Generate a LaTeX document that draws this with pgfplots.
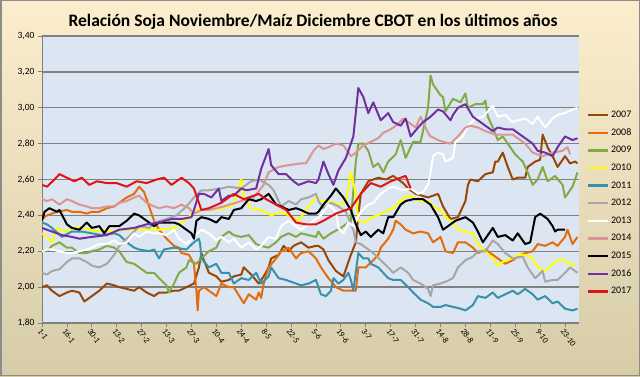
\documentclass[border=0pt]{standalone}
\usepackage{pgfplots}
\pgfplotsset{compat=1.18}
\usepackage{fontspec}
\setmainfont{Carlito}
\definecolor{c2007}{RGB}{151,71,6}
\definecolor{c2008}{RGB}{228,108,10}
\definecolor{c2009}{RGB}{130,170,70}
\definecolor{c2010}{RGB}{255,255,0}
\definecolor{c2011}{RGB}{55,145,170}
\definecolor{c2012}{RGB}{166,166,166}
\definecolor{c2013}{RGB}{255,255,255}
\definecolor{c2014}{RGB}{217,150,148}
\definecolor{c2015}{RGB}{0,0,0}
\definecolor{c2016}{RGB}{112,48,160}
\definecolor{c2017}{RGB}{225,20,20}
\definecolor{plotbg}{RGB}{220,230,242}
\definecolor{gridc}{RGB}{128,128,128}
\begin{document}
\begin{tikzpicture}
\shade[top color={rgb,255:red,252;green,238;blue,205}, bottom color={rgb,255:red,214;green,204;blue,168}] (0,0) rectangle (640pt,376pt);
\draw[line width=1.5pt, color={rgb,255:red,140;green,140;blue,140}] (0.75pt,0.75pt) rectangle (639.25pt,375.25pt);
\node[font=\fontsize{17.5}{20}\selectfont\bfseries] at (313pt,354pt) {Relación Soja Noviembre/Maíz Diciembre CBOT en los últimos años};
\begin{axis}[
  at={(42pt,53pt)}, anchor=south west,
  width=537pt, height=287pt, scale only axis,
  xmin=0, xmax=215.6, ymin=1.8, ymax=3.4,
  axis lines*=left,
  axis line style={gridc, line width=0.8pt},
  axis background/.style={fill=plotbg},
  xtick={0,10,...,210},
  xticklabels={1-1,16-1,30-1,13-2,27-2,13-3,27-3,10-4,24-4,8-5,22-5,5-6,19-6,3-7,17-7,31-7,14-8,28-8,11-9,25-9,9-10,23-10},
  ytick={1.8,2.0,2.2,2.4,2.6,2.8,3.0,3.2,3.4},
  ymajorgrids,
  major grid style={gridc, line width=1.3pt},
  tick align=outside, major tick length=4pt,
  tick style={gridc, line width=0.8pt},
  xticklabel style={rotate=-55, anchor=north west, inner sep=0.5pt, font=\fontsize{8.5}{9}\selectfont},
  yticklabel style={font=\fontsize{9.5}{11}\selectfont},
  /pgf/number format/.cd, assume math mode=true, use comma, fixed, fixed zerofill, precision=2,
  /pgfplots/.cd,
  every axis plot/.append style={line width=2pt, line join=round},
  clip=true,
  legend style={at={(1.012,0.75)}, anchor=north west, draw=none, fill=none, font=\fontsize{10}{12}\selectfont, row sep=5.6pt, inner sep=1pt},
  legend cell align=left,
  legend image code/.code={\draw[#1, line width=2.4pt] (0pt,0pt) -- (20pt,0pt);},
]
% 2007
\addplot[c2007] coordinates {(0,2.00)(2,2.01)(4,1.98)(7,1.95)(10,1.97)(12,1.98)(15,1.97)(17,1.92)(18,1.93)(20,1.95)(23,1.98)(26,2.02)(29,2.01)(31,2.00)(34,1.99)(37,1.98)(39,2.00)(42,1.97)(45,1.95)(47,1.97)(50,1.97)(53,1.98)(55,1.98)(58,2.00)(61,2.02)(63,2.11)(64,2.19)(65,2.15)(67,2.08)(70,2.06)(72,2.03)(75,2.04)(77,2.06)(80,2.07)(81,2.11)(84,2.07)(87,2.02)(89,2.06)(91,2.11)(92,2.16)(95,2.18)(97,2.23)(99,2.20)(101,2.23)(104,2.25)(107,2.22)(110,2.23)(111,2.23)(113,2.21)(115,2.15)(118,2.09)(121,2.06)(122,2.10)(124,2.18)(126,2.25)(127,2.40)(128,2.52)(131,2.59)(135,2.61)(138,2.60)(141,2.62)(143,2.60)(145,2.58)(147,2.55)(150,2.52)(155,2.50)(159,2.52)(161,2.45)(164,2.38)(167,2.39)(170,2.48)(171,2.57)(172,2.60)(175,2.59)(178,2.63)(181,2.64)(182,2.70)(183,2.70)(185,2.75)(187,2.67)(189,2.60)(191,2.61)(194,2.61)(195,2.67)(198,2.70)(200,2.71)(201,2.85)(203,2.78)(205,2.73)(207,2.67)(210,2.73)(212,2.69)(214,2.70)(215,2.69)};
% 2008
\addplot[c2008] coordinates {(0,2.38)(2,2.40)(6,2.42)(10,2.43)(12,2.42)(15,2.42)(18,2.41)(20,2.42)(23,2.42)(26,2.44)(29,2.45)(31,2.47)(34,2.50)(37,2.52)(39,2.56)(41,2.53)(43,2.45)(45,2.37)(47,2.32)(50,2.27)(53,2.23)(55,2.22)(56,2.19)(59,2.18)(61,2.13)(62,1.98)(62.5,1.87)(63,1.98)(65,2.00)(67,1.98)(70,1.95)(72,2.02)(75,2.00)(77,2.00)(81,1.91)(83,1.96)(86,1.93)(87,1.97)(88,1.94)(89,2.02)(91,2.11)(94,2.16)(96,2.20)(99,2.22)(102,2.16)(104,2.19)(107,2.20)(110,2.16)(112,2.11)(115,2.05)(118,2.00)(121,1.98)(124,1.98)(126,1.98)(127,2.11)(130,2.11)(133,2.15)(135,2.18)(136,2.22)(139,2.27)(141,2.32)(142,2.37)(144,2.35)(146,2.32)(149,2.30)(152,2.31)(155,2.30)(157,2.25)(160,2.28)(162,2.20)(165,2.19)(167,2.25)(170,2.25)(173,2.22)(175,2.19)(178,2.21)(183,2.16)(186,2.13)(189,2.15)(191,2.17)(194,2.19)(197,2.20)(199,2.24)(202,2.23)(205,2.25)(207,2.23)(210,2.28)(211,2.32)(213,2.24)(215,2.28)};
% 2009
\addplot[c2009] coordinates {(0,2.21)(2,2.20)(4,2.23)(7,2.25)(10,2.22)(12,2.22)(15,2.19)(18,2.19)(20,2.20)(23,2.21)(26,2.23)(29,2.22)(31,2.20)(34,2.14)(37,2.13)(39,2.11)(42,2.08)(45,2.08)(47,2.05)(50,2.01)(51,1.97)(53,2.02)(55,2.08)(58,2.11)(59,2.15)(62,2.13)(64,2.16)(67,2.20)(70,2.22)(72,2.28)(75,2.31)(77,2.29)(80,2.28)(83,2.29)(86,2.24)(88,2.23)(91,2.22)(94,2.25)(96,2.28)(99,2.30)(102,2.28)(104,2.30)(107,2.29)(110,2.28)(111,2.31)(113,2.27)(116,2.30)(120,2.33)(124,2.37)(126,2.70)(127,2.80)(129,2.80)(131,2.76)(133,2.67)(135,2.69)(137,2.64)(139,2.70)(142,2.74)(144,2.82)(146,2.72)(149,2.81)(152,2.81)(155,3.00)(156,3.18)(157,3.13)(160,3.07)(161,3.06)(162,2.98)(165,3.05)(168,3.03)(170,3.08)(171,3.00)(174,3.02)(177,3.02)(178,3.04)(179,2.95)(181,2.89)(183,2.82)(185,2.84)(188,2.78)(190,2.74)(193,2.70)(195,2.64)(197,2.57)(199,2.60)(201,2.67)(203,2.59)(206,2.62)(209,2.57)(210,2.50)(213,2.56)(214,2.60)(215,2.64)};
% 2010
\addplot[c2010] coordinates {(0,2.30)(2,2.28)(4,2.25)(6,2.33)(9,2.31)(13,2.33)(17,2.33)(19,2.32)(22,2.31)(25,2.32)(28,2.31)(33,2.32)(39,2.32)(47,2.32)(53,2.33)(58,2.38)(62,2.43)(67,2.43)(73,2.44)(77,2.46)(80,2.60)(81,2.50)(84,2.44)(88,2.43)(92,2.40)(96,2.42)(99,2.40)(103,2.37)(108,2.47)(110,2.50)(112,2.48)(115,2.48)(119,2.46)(122,2.47)(124,2.64)(126,2.52)(127,2.37)(130,2.36)(132,2.39)(135,2.40)(139,2.43)(141,2.44)(144,2.48)(146,2.51)(149,2.50)(152,2.48)(155,2.48)(157,2.45)(160,2.43)(162,2.39)(165,2.36)(167,2.32)(170,2.31)(173,2.30)(175,2.24)(178,2.20)(181,2.16)(183,2.12)(186,2.15)(189,2.16)(191,2.18)(194,2.18)(197,2.16)(199,2.11)(202,2.09)(205,2.13)(207,2.15)(210,2.15)(213,2.12)(214,2.13)};
% 2011
\addplot[c2011] coordinates {(0,2.36)(2,2.35)(4,2.33)(8,2.28)(12,2.31)(16,2.31)(20,2.30)(24,2.29)(29,2.30)(31,2.29)(35,2.24)(37,2.22)(39,2.21)(43,2.20)(45,2.21)(47,2.16)(49,2.21)(53,2.22)(58,2.21)(61,2.25)(63,2.27)(63.5,2.24)(64,2.16)(67,2.11)(70,2.13)(72,2.08)(75,2.08)(77,2.02)(80,2.05)(83,2.04)(86,2.08)(88,2.02)(91,2.06)(92,2.11)(95,2.05)(98,2.04)(102,2.02)(104,2.01)(107,2.02)(110,2.04)(112,1.96)(114,1.95)(116,1.98)(117,2.05)(119,2.02)(121,2.04)(123,2.08)(124,2.04)(125,1.98)(127,2.19)(129,2.16)(131,2.16)(132,2.13)(135,2.11)(137,2.08)(139,2.05)(141,2.04)(144,2.04)(147,2.00)(149,1.97)(152,1.93)(155,1.91)(157,1.89)(160,1.89)(162,1.90)(165,1.89)(168,1.88)(170,1.87)(173,1.90)(175,1.95)(178,1.94)(181,1.97)(183,1.94)(186,1.96)(189,1.98)(191,1.96)(194,1.99)(197,1.96)(199,1.93)(202,1.95)(205,1.91)(207,1.92)(210,1.88)(213,1.87)(215,1.88)};
% 2012
\addplot[c2012] coordinates {(0,2.08)(2,2.07)(4,2.09)(7,2.10)(10,2.14)(12,2.16)(15,2.16)(18,2.14)(20,2.12)(23,2.11)(26,2.13)(29,2.18)(31,2.23)(34,2.27)(37,2.31)(39,2.34)(43,2.33)(45,2.36)(50,2.38)(54,2.40)(58,2.45)(61,2.50)(64,2.54)(67,2.54)(72,2.55)(75,2.56)(80,2.55)(84,2.59)(87,2.60)(91,2.57)(93,2.54)(95,2.48)(96,2.45)(99,2.48)(102,2.46)(104,2.49)(107,2.50)(110,2.52)(111,2.48)(113,2.44)(116,2.47)(119,2.45)(122,2.42)(125,2.32)(126,2.25)(128,2.24)(130,2.22)(133,2.19)(136,2.15)(139,2.11)(141,2.08)(144,2.11)(147,2.08)(149,2.04)(152,2.02)(155,1.99)(156,1.95)(157,2.01)(160,2.02)(162,2.03)(165,2.05)(167,2.11)(170,2.15)(173,2.17)(175,2.20)(178,2.20)(181,2.26)(183,2.24)(186,2.19)(189,2.16)(193,2.17)(195,2.11)(198,2.05)(201,2.09)(202,2.03)(205,2.04)(207,2.04)(210,2.08)(212,2.11)(215,2.08)};
% 2013
\addplot[c2013] coordinates {(0,2.20)(2,2.21)(4,2.21)(7,2.20)(10,2.19)(12,2.19)(15,2.20)(18,2.21)(20,2.22)(23,2.24)(26,2.24)(29,2.26)(31,2.24)(34,2.25)(37,2.30)(39,2.28)(42,2.31)(45,2.30)(47,2.30)(50,2.29)(53,2.32)(55,2.27)(58,2.24)(61,2.28)(64,2.32)(67,2.30)(70,2.26)(72,2.28)(75,2.25)(77,2.27)(80,2.22)(83,2.25)(86,2.21)(88,2.23)(91,2.28)(94,2.27)(96,2.34)(99,2.37)(102,2.34)(104,2.32)(107,2.35)(110,2.38)(112,2.40)(115,2.46)(118,2.42)(119,2.33)(121,2.30)(123,2.36)(125,2.34)(128,2.42)(131,2.46)(133,2.47)(136,2.52)(139,2.55)(141,2.56)(145,2.54)(148,2.55)(151,2.52)(153,2.53)(155,2.57)(156,2.64)(157,2.73)(159,2.75)(161,2.74)(162,2.70)(165,2.72)(166,2.81)(169,2.84)(171,2.90)(174,2.94)(177,2.95)(179,2.98)(181,3.01)(183,2.95)(186,2.96)(189,2.92)(191,2.93)(194,2.94)(197,2.91)(199,2.95)(202,2.89)(205,2.94)(207,2.96)(210,2.97)(213,2.99)(215,3.00)};
% 2014
\addplot[c2014] coordinates {(0,2.49)(2,2.48)(4,2.49)(7,2.46)(10,2.49)(12,2.48)(15,2.46)(18,2.45)(20,2.44)(23,2.44)(26,2.45)(29,2.45)(31,2.47)(34,2.48)(37,2.50)(39,2.51)(42,2.47)(45,2.45)(47,2.44)(50,2.45)(53,2.44)(56,2.46)(59,2.44)(61,2.41)(64,2.43)(67,2.43)(73,2.45)(80,2.48)(85,2.50)(89,2.57)(91,2.64)(95,2.67)(99,2.68)(104,2.69)(106,2.69)(109,2.76)(111,2.79)(113,2.77)(115,2.78)(118,2.80)(121,2.79)(124,2.73)(126,2.75)(129,2.79)(132,2.81)(135,2.83)(137,2.86)(140,2.88)(143,2.91)(145,2.94)(148,2.91)(150,2.89)(152,2.95)(155,2.86)(156,2.84)(159,2.82)(161,2.81)(164,2.80)(167,2.84)(170,2.89)(172,2.90)(175,2.89)(178,2.87)(182,2.85)(189,2.85)(194,2.80)(197,2.75)(201,2.73)(205,2.75)(209,2.76)(211,2.78)(212,2.74)};
% 2015
\addplot[c2015] coordinates {(0,2.37)(1,2.42)(3,2.44)(6,2.42)(7,2.43)(10,2.35)(12,2.33)(15,2.32)(18,2.36)(20,2.33)(23,2.34)(25,2.30)(27,2.34)(31,2.34)(34,2.37)(37,2.41)(39,2.40)(42,2.37)(45,2.34)(47,2.36)(53,2.36)(55,2.35)(58,2.32)(60,2.30)(61,2.27)(62,2.37)(64,2.39)(67,2.38)(70,2.36)(72,2.39)(75,2.38)(77,2.43)(80,2.44)(83,2.49)(86,2.48)(88,2.49)(91,2.52)(94,2.46)(96,2.45)(99,2.43)(102,2.44)(104,2.43)(107,2.41)(110,2.41)(111,2.42)(113,2.46)(116,2.51)(118,2.55)(121,2.50)(124,2.43)(126,2.35)(128,2.29)(130,2.31)(132,2.28)(135,2.32)(137,2.30)(139,2.39)(141,2.39)(144,2.46)(146,2.48)(149,2.49)(153,2.49)(156,2.46)(159,2.39)(161,2.32)(163,2.34)(166,2.37)(170,2.39)(173,2.36)(175,2.31)(177,2.25)(181,2.33)(183,2.28)(186,2.29)(189,2.26)(191,2.30)(194,2.24)(196,2.25)(198,2.39)(200,2.41)(203,2.38)(205,2.34)(206,2.31)(207,2.32)(210,2.32)};
% 2016
\addplot[c2016] coordinates {(0,2.33)(4,2.31)(8,2.29)(12,2.28)(15,2.27)(20,2.28)(26,2.29)(31,2.32)(37,2.33)(42,2.35)(47,2.36)(52,2.38)(56,2.38)(60,2.39)(61,2.43)(63,2.52)(65,2.52)(68,2.50)(71,2.55)(72,2.48)(75,2.51)(77,2.51)(80,2.55)(82,2.54)(86,2.55)(88,2.66)(91,2.77)(92,2.68)(95,2.63)(98,2.63)(101,2.59)(103,2.57)(107,2.59)(110,2.58)(111,2.60)(113,2.70)(115,2.63)(117,2.57)(119,2.65)(122,2.72)(124,2.80)(125,2.84)(127,3.11)(129,3.06)(131,2.97)(133,3.03)(136,2.93)(139,2.97)(141,2.92)(144,2.90)(146,2.94)(148,2.84)(151,2.89)(153,2.92)(156,2.95)(159,2.99)(161,2.98)(164,2.93)(165,2.96)(167,3.00)(170,3.02)(173,2.95)(175,2.93)(178,2.90)(181,2.87)(183,2.89)(186,2.88)(189,2.88)(191,2.86)(194,2.83)(197,2.80)(199,2.76)(202,2.75)(205,2.73)(207,2.78)(210,2.84)(213,2.82)(215,2.83)};
% 2017
\addplot[c2017] coordinates {(0,2.57)(2,2.56)(5,2.60)(7,2.63)(10,2.61)(13,2.59)(16,2.61)(19,2.57)(22,2.59)(26,2.58)(30,2.58)(34,2.56)(38,2.59)(42,2.58)(46,2.60)(49,2.61)(52,2.57)(56,2.61)(59,2.58)(61,2.55)(63,2.47)(64,2.43)(67,2.44)(72,2.47)(77,2.52)(81,2.49)(87,2.52)(90,2.49)(94,2.46)(98,2.43)(102,2.36)(106,2.35)(110,2.35)(113,2.37)(118,2.41)(124,2.44)(128,2.52)(132,2.58)(136,2.56)(140,2.59)(144,2.61)(146,2.62)(148,2.55)};
\legend{2007,2008,2009,2010,2011,2012,2013,2014,2015,2016,2017}
\end{axis}
\end{tikzpicture}
\end{document}
